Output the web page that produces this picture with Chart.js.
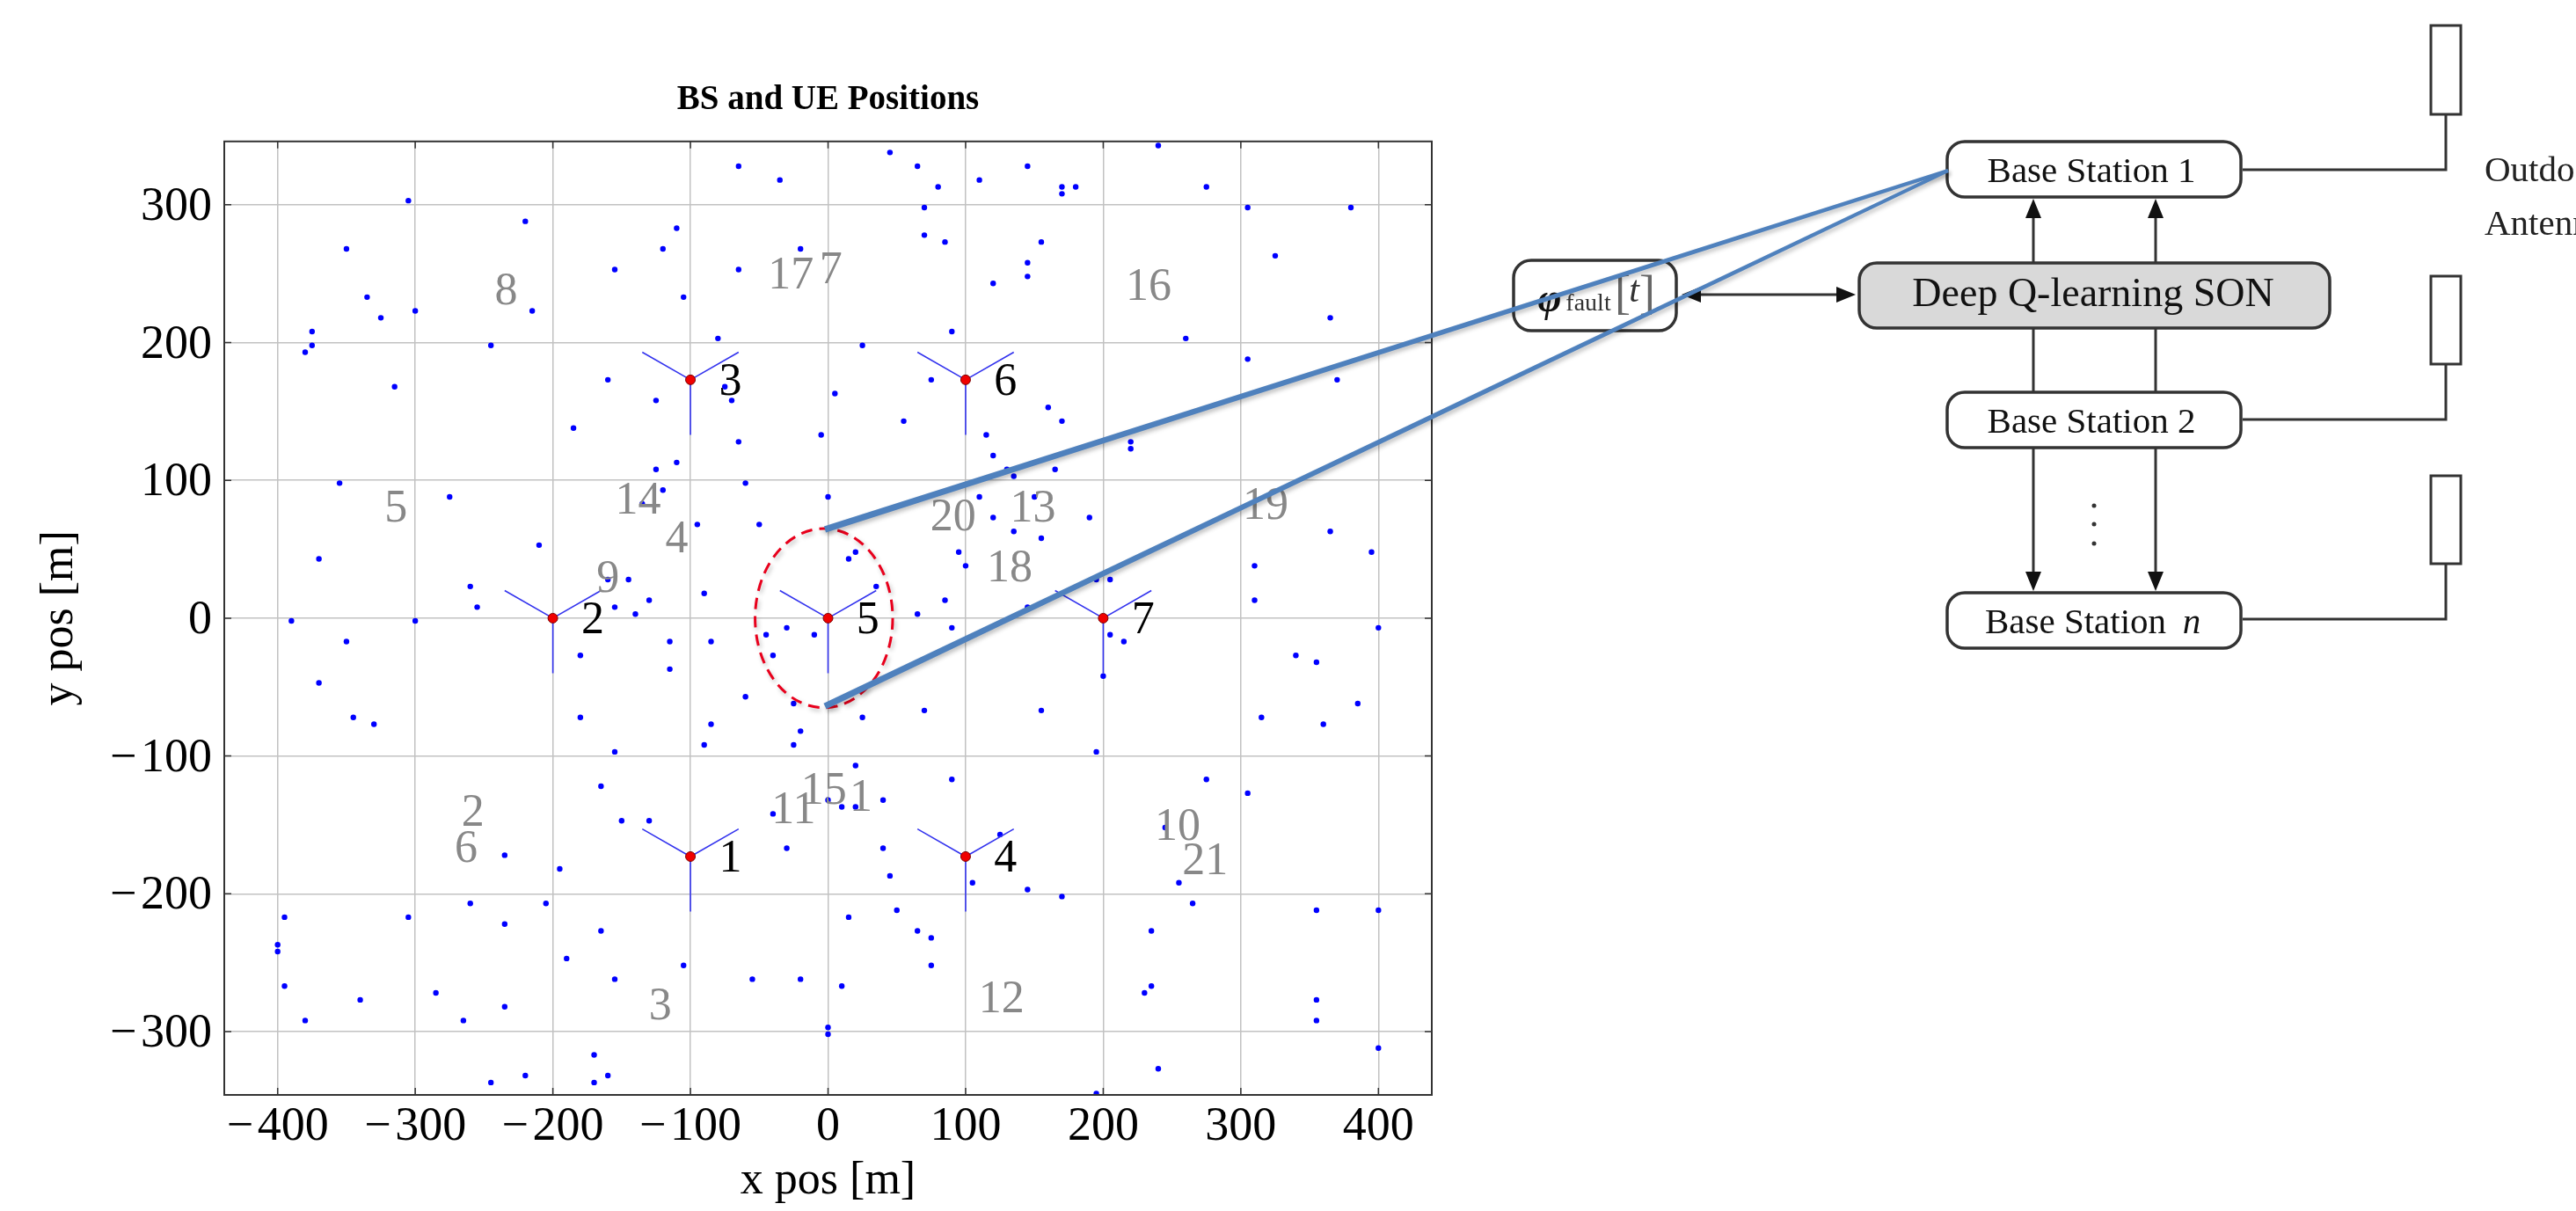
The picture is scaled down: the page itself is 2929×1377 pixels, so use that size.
<!DOCTYPE html>
<html>
<head>
<meta charset="utf-8">
<title>BS and UE Positions</title>
<script src="https://cdn.jsdelivr.net/npm/chart.js@4"></script>
<style>
  html, body { margin: 0; padding: 0; background: #fff; overflow: hidden; }
  canvas { display: block; }
</style>
</head>
<body>
<canvas id="canvas" width="2929" height="1377"></canvas>
<script>
var xTicks = [-400, -300, -200, -100, 0, 100, 200, 300, 400];
var yTicks = [-300, -200, -100, 0, 100, 200, 300];

// base stations
var bsX = [-100, -200, -100, 100, 0, 100, 200];
var bsY = [-173, 0, 173, -173, 0, 173, 0];
var bsNames = ['1', '2', '3', '4', '5', '6', '7'];
var bsNameX = [-71, -171, -71, 129, 29, 129, 229];
var bsNameY = [-174, -1, 172, -174, -1, 172, -1];
var antennaDx = [-35, 35, 0];
var antennaDy = [20, 20, -40];

// grey cell numbers
var cellNames = ['8', '17', '7', '5', '14', '4', '9', '16', '20', '13', '18', '19', '2', '6', '3', '11', '15', '1', '10', '21', '12'];
var cellX = [-234, -27, 2, -314, -138, -110, -160, 233, 91, 149, 132, 318, -258, -263, -122, -25, -3, 24, 254, 274, 126];
var cellY = [238, 249, 253, 80, 86, 58, 29, 241, 74, 80, 37, 82, -141, -167, -281, -139, -125, -130, -151, -176, -276];

// users
var ueX = [-65, -35, -305, -220, -110, -350, -120, -20, -155, -65, -335, -105, -325, -300, -215, -375, -375, -380, -245, -80, 25,
  -315, -160, -75, -125, -70, 5, -185, -5, -65, -110, -125, -355, -60, -120, -275, 0, -135, -95, -50, -210, -370, 15, 20,
  -260, -160, -145, -90, -255, -155, -130, -140, -390, -300,
  45, 65, 80, 110, 145, 170, 170, 180, 240, 275, 70, 305, 380, 70, 85, 155, 145, 145, 120, 325, 365, 90, 260, 305, 75, 370,
  55, 160, 170, 115, 120, 220, 220, 130, 135, 165, 110, 150, 120, 190, 135, 155, 365, 95, 100, 395, 310, 35, 205, 195, 85, 310, 65, 145, 90, 400,
  -350, -180, -115, -85, -45, -30, -10, -40, -115, -370, -60, -25, -345, -330, -180, -85, -20, -90, -25, -155, 20, -165, 0, 10, 20,
  -150, -130, -40, -30, -235, -195, -260, -205, -395, -305, -235, 15, -165, -400, -400, -190, -105, -155, -55, -20, -395, 10, -285,
  -340, -235, -380, -265, 0, 0, -170, -220, -160, -245, -170,
  205, 215, 200, 340, 355, 70, 155, 25, 385, 315, 360, 195, 90, 275, 305, 40, 245, 125, 40, 45, 105, 145, 170, 255, 265, 50, 355, 400,
  65, 75, 235, 75, 235, 230, 355, 355, 400, 240, 195];
var ueY = [328, 318, 303, 288, 283, 268, 268, 268, 253, 253, 233, 233, 218, 223, 223, 208, 198, 193, 198, 203, 198,
  168, 173, 168, 158, 158, 163, 138, 133, 128, 113, 108, 98, 98, 93, 88, 88, 83, 68, 68, 53, 43, 43, 48,
  23, 28, 28, 18, 8, 8, 13, 3, -2, -2,
  338, 328, 313, 318, 328, 313, 308, 313, 343, 313, 298, 298, 298, 278, 273, 273, 258, 248, 243, 263, 218, 208, 203, 188, 173, 173,
  143, 153, 143, 133, 118, 128, 123, 108, 103, 108, 88, 88, 73, 73, 63, 58, 63, 48, 38, 48, 38, 23, 28, 28, 13, 13, 3, 8, -7, -7,
  -17, -27, -17, -17, -12, -7, -12, -27, -37, -47, -57, -62, -72, -77, -72, -77, -82, -92, -92, -97, -107, -122, -132, -137, -137,
  -147, -147, -142, -167, -172, -182, -207, -207, -217, -217, -222, -217, -227, -237, -242, -247, -252, -262, -262, -262, -267, -267, -272,
  -277, -282, -292, -292, -297, -302, -317, -332, -332, -337, -337,
  -12, -17, -42, -27, -32, -67, -67, -72, -62, -72, -77, -97, -117, -117, -127, -132, -152, -157, -167, -187, -192, -197, -202, -192, -207, -212, -212, -212,
  -227, -232, -227, -252, -267, -272, -277, -292, -312, -327, -345];

// zoom ellipse around cell 5, in data units
var ellipseX = -3, ellipseY = 0, ellipseRx = 50, ellipseRy = 65;

var uePoints = ueX.map(function(x, i) { return { x: x, y: ueY[i] }; });
var bsPoints = bsX.map(function(x, i) { return { x: x, y: bsY[i] }; });
var antennaPoints = [];
bsX.forEach(function(x, i) {
  antennaDx.forEach(function(dx, j) {
    antennaPoints.push({ x: x, y: bsY[i] });
    antennaPoints.push({ x: x + dx, y: bsY[i] + antennaDy[j] });
    antennaPoints.push({ x: null, y: null });
  });
});

function box(ctx, x0, y0, x1, y1, r, fill) {
  ctx.beginPath();
  ctx.roundRect(x0, y0, x1 - x0, y1 - y0, r);
  if (fill) { ctx.fillStyle = fill; ctx.fill(); }
  ctx.strokeStyle = '#333';
  ctx.lineWidth = 3.5;
  ctx.stroke();
}
function line(ctx, pts) {
  ctx.beginPath();
  pts.forEach(function(p, i) { if (i) ctx.lineTo(p[0], p[1]); else ctx.moveTo(p[0], p[1]); });
  ctx.strokeStyle = '#333';
  ctx.lineWidth = 3;
  ctx.stroke();
}
function head(ctx, x, y, dx, dy) {
  // tip at x,y pointing along dx,dy
  ctx.beginPath();
  ctx.moveTo(x, y);
  ctx.lineTo(x - dx * 22 - dy * 9, y - dy * 22 - dx * 9);
  ctx.lineTo(x - dx * 22 + dy * 9, y - dy * 22 + dx * 9);
  ctx.closePath();
  ctx.fillStyle = '#111';
  ctx.fill();
}
function label(ctx, s, x, y, font, color, align) {
  ctx.font = font;
  ctx.fillStyle = color || '#111';
  ctx.textAlign = align || 'center';
  ctx.textBaseline = 'middle';
  ctx.fillText(s, x, y);
}
// zoom line, thinner towards the far end
function taper(ctx, x0, y0, x1, y1, w0, w1) {
  var len = Math.hypot(x1 - x0, y1 - y0), nx = -(y1 - y0) / len, ny = (x1 - x0) / len;
  ctx.beginPath();
  ctx.moveTo(x0 + nx * w0, y0 + ny * w0);
  ctx.lineTo(x1 + nx * w1, y1 + ny * w1);
  ctx.lineTo(x1 - nx * w1, y1 - ny * w1);
  ctx.lineTo(x0 - nx * w0, y0 - ny * w0);
  ctx.closePath();
  ctx.fillStyle = '#4f81bd';
  ctx.fill();
}

var diagram = {
  id: 'diagram',
  afterDatasetsDraw: function(chart) {
    var ctx = chart.ctx, a = chart.chartArea, sx = chart.scales.x, sy = chart.scales.y;
    ctx.save();

    // frame and inner ticks
    ctx.strokeStyle = '#333';
    ctx.lineWidth = 1.5;
    xTicks.forEach(function(v) {
      var p = sx.getPixelForValue(v);
      ctx.beginPath(); ctx.moveTo(p, a.top); ctx.lineTo(p, a.top + 8); ctx.moveTo(p, a.bottom); ctx.lineTo(p, a.bottom - 8); ctx.stroke();
    });
    yTicks.forEach(function(v) {
      var p = sy.getPixelForValue(v);
      ctx.beginPath(); ctx.moveTo(a.left, p); ctx.lineTo(a.left + 8, p); ctx.moveTo(a.right, p); ctx.lineTo(a.right - 8, p); ctx.stroke();
    });
    ctx.lineWidth = 2;
    ctx.strokeRect(a.left, a.top, a.right - a.left, a.bottom - a.top);

    // numbers on the map
    cellNames.forEach(function(s, i) {
      label(ctx, s, sx.getPixelForValue(cellX[i]), sy.getPixelForValue(cellY[i]) + 2, '52px "Liberation Serif"', '#888');
    });
    bsNames.forEach(function(s, i) {
      label(ctx, s, sx.getPixelForValue(bsNameX[i]), sy.getPixelForValue(bsNameY[i]) + 2, '52px "Liberation Serif"', '#000');
    });

    // block diagram on the right
    box(ctx, 2214, 161, 2548, 224, 20);
    box(ctx, 2214, 446, 2548, 509, 20);
    box(ctx, 2214, 674, 2548, 737, 20);
    box(ctx, 2114, 299, 2649, 373, 20, '#d9d9d9');
    box(ctx, 1721, 296, 1906, 376, 20);
    label(ctx, 'Base Station 1', 2378, 196, '41px "Liberation Serif"');
    label(ctx, 'Base Station 2', 2378, 481, '41px "Liberation Serif"');
    label(ctx, 'Base Station', 2360, 709, '41px "Liberation Serif"');
    label(ctx, 'n', 2492, 709, 'italic 41px "Liberation Serif"');
    label(ctx, 'Deep Q-learning SON', 2380, 336, '46px "Liberation Serif"');
    label(ctx, 'φ', 1762, 342, 'italic bold 46px "Liberation Serif"');
    label(ctx, 'fault', 1806, 346, '28px "Liberation Serif"', '#333');
    label(ctx, '[', 1845, 337, '54px "Liberation Serif"', '#666');
    label(ctx, 't', 1858, 332, 'italic 42px "Liberation Serif"', '#333');
    label(ctx, ']', 1873, 337, '54px "Liberation Serif"', '#666');

    [2312, 2451].forEach(function(x) {
      line(ctx, [[x, 299], [x, 240]]);
      head(ctx, x, 226, 0, -1);
      line(ctx, [[x, 373], [x, 446]]);
      line(ctx, [[x, 509], [x, 655]]);
      head(ctx, x, 672, 0, 1);
    });
    line(ctx, [[1930, 335], [2090, 335]]);
    head(ctx, 1912, 335, -1, 0);
    head(ctx, 2110, 335, 1, 0);
    [575, 596, 618].forEach(function(y) {
      ctx.fillStyle = '#333';
      ctx.beginPath(); ctx.arc(2381, y, 2.5, 0, Math.PI * 2); ctx.fill();
    });

    [[29, 130, 193], [314, 414, 477], [541, 641, 704]].forEach(function(t) {
      ctx.strokeStyle = '#333';
      ctx.lineWidth = 3;
      ctx.strokeRect(2764, t[0], 34, t[1] - t[0]);
      line(ctx, [[2781, t[1]], [2781, t[2]], [2550, t[2]]]);
    });
    label(ctx, 'Outdoor', 2825, 195, '41px "Liberation Serif"', '#222', 'left');
    label(ctx, 'Antenna', 2825, 256, '41px "Liberation Serif"', '#222', 'left');

    // dashed ellipse and zoom lines
    ctx.shadowColor = 'rgba(0,0,0,0.25)';
    ctx.shadowBlur = 5;
    ctx.shadowOffsetX = 2;
    ctx.shadowOffsetY = 3;
    var ex = sx.getPixelForValue(ellipseX), ey = sy.getPixelForValue(ellipseY);
    ctx.beginPath();
    ctx.ellipse(ex, ey, sx.getPixelForValue(ellipseX + ellipseRx) - ex, ey - sy.getPixelForValue(ellipseY + ellipseRy), 0, 0, Math.PI * 2);
    ctx.strokeStyle = '#e8001c';
    ctx.lineWidth = 3;
    ctx.setLineDash([13, 8]);
    ctx.stroke();
    ctx.setLineDash([]);
    taper(ctx, 938, 602, 2215, 194, 3.6, 2);
    taper(ctx, 938, 803, 2215, 194, 3.6, 2);
    ctx.restore();
  }
};

new Chart(document.getElementById('canvas').getContext('2d'), {
  type: 'scatter',
  data: {
    datasets: [
      { label: 'BS', data: bsPoints, pointRadius: 5.5, pointBackgroundColor: '#f00000', pointBorderColor: '#7a0000', pointBorderWidth: 1, showLine: false },
      { label: 'Antenna', data: antennaPoints, showLine: true, spanGaps: false, borderColor: '#3333ee', borderWidth: 1.6, pointRadius: 0 },
      { label: 'UE', data: uePoints, pointRadius: 3.2, pointBackgroundColor: '#0000ff', pointBorderWidth: 0, showLine: false }
    ]
  },
  options: {
    responsive: false,
    animation: false,
    layout: { padding: { top: 0, left: 0, right: 1301, bottom: 0 } },
    plugins: {
      legend: { display: false },
      tooltip: { enabled: false },
      title: {
        display: true,
        text: 'BS and UE Positions',
        fullSize: false,
        color: '#000',
        font: { family: '"Liberation Serif"', size: 39, weight: 'bold' },
        padding: { top: 91, bottom: 23 }
      }
    },
    scales: {
      x: {
        type: 'linear',
        min: -438.8,
        max: 438.8,
        afterBuildTicks: function(scale) { scale.ticks = xTicks.map(function(v) { return { value: v }; }); },
        afterFit: function(scale) { scale.height = 132; },
        grid: { color: '#c2c2c2', lineWidth: 1.5, drawTicks: false },
        border: { display: false },
        title: { display: true, text: 'x pos [m]', color: '#000', font: { family: '"Liberation Serif"', size: 52 }, padding: { top: 0, bottom: 2 } },
        ticks: {
          autoSkip: false, maxRotation: 0, padding: 4, color: '#000',
          font: { family: '"Liberation Serif"', size: 54 },
          callback: function(v) { return String(v).replace('-', '\u2212\u200a'); }
        }
      },
      y: {
        type: 'linear',
        min: -346,
        max: 346,
        afterBuildTicks: function(scale) { scale.ticks = yTicks.map(function(v) { return { value: v }; }); },
        afterFit: function(scale) { scale.width = 255; },
        grid: { color: '#c2c2c2', lineWidth: 1.5, drawTicks: false },
        border: { display: false },
        title: { display: true, text: 'y pos [m]', color: '#000', font: { family: '"Liberation Serif"', size: 52 }, padding: { top: 37, bottom: 0 } },
        ticks: {
          autoSkip: false, padding: 14, color: '#000',
          font: { family: '"Liberation Serif"', size: 54, lineHeight: '6px' },
          // empty first line nudges the digits down to sit on the grid line
          callback: function(v) { return ['', String(v).replace('-', '\u2212\u200a')]; }
        }
      }
    }
  },
  plugins: [diagram]
});
</script>
</body>
</html>
